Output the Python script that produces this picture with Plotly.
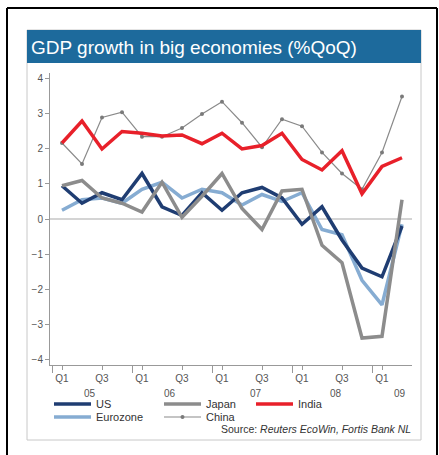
import plotly.graph_objects as go

# ---- data (QoQ % growth, 2005Q1 .. 2009Q2) ----
quarters = ["05Q1","05Q2","05Q3","05Q4","06Q1","06Q2","06Q3","06Q4",
            "07Q1","07Q2","07Q3","07Q4","08Q1","08Q2","08Q3","08Q4",
            "09Q1","09Q2"]
us       = [0.95,0.45,0.75,0.55,1.30,0.35,0.10,0.75,0.25,0.75,0.90,0.60,-0.15,0.35,-0.60,-1.40,-1.65,-0.20]
eurozone = [0.25,0.55,0.60,0.45,0.85,1.05,0.60,0.85,0.75,0.40,0.70,0.50,0.75,-0.30,-0.45,-1.75,-2.45,-0.15]
japan    = [0.95,1.10,0.60,0.45,0.20,1.05,0.05,0.65,1.30,0.30,-0.30,0.80,0.85,-0.75,-1.25,-3.40,-3.35,0.55]
china    = [2.17,1.57,2.90,3.05,2.35,2.35,2.60,3.00,3.35,2.75,2.05,2.85,2.65,1.90,1.30,0.85,1.90,3.50]
india    = [2.17,2.80,2.00,2.50,2.45,2.37,2.40,2.15,2.45,2.00,2.10,2.45,1.70,1.40,1.95,0.72,1.50,1.75]

q_tick_labels = ["Q1","Q3","Q1","Q3","Q1","Q3","Q1","Q3","Q1"]
q_tick_idx    = [0,2,4,6,8,10,12,14,16]
year_labels   = ["05","06","07","08","09"]
year_centers  = [1.4,5.4,9.7,13.7,16.9]
year_bounds   = [-0.5,3.5,7.5,11.5,15.5]
y_ticks       = [-4,-3,-2,-1,0,1,2,3,4]

x = list(range(len(quarters)))

W, H = 439, 455
L, R, T, B = 50, 412, 73, 365
def px(p):  # pixel x -> paper
    return (p - L) / (R - L)
def py(p):  # pixel y -> paper
    return (B - p) / (B - T)

FONT = "Arial, Liberation Sans, sans-serif"

fig = go.Figure()

series = [
    ("Eurozone", eurozone, dict(color="#86acd2", width=3.5), None, "legend4"),
    ("US", us, dict(color="#1f3d72", width=3.5), None, "legend"),
    ("Japan", japan, dict(color="#8c8c8c", width=3.5), None, "legend2"),
    ("China", china, dict(color="#8a8a8a", width=1.2), dict(size=4, color="#7a7a7a"), "legend5"),
    ("India", india, dict(color="#e8202a", width=3.5), None, "legend3"),
]
for name, vals, line, marker, leg in series:
    fig.add_trace(go.Scatter(
        x=x, y=vals, name=name, mode="lines+markers" if marker else "lines",
        line=line, marker=marker, legend=leg, showlegend=True))

shapes = [
    # panel
    dict(type="rect", xref="paper", yref="paper", x0=px(27), x1=px(421), y0=py(30), y1=py(440),
         line=dict(color="#c8c8c8", width=1), fillcolor="white", layer="below"),
    # title bar
    dict(type="rect", xref="paper", yref="paper", x0=px(27), x1=px(421), y0=py(30), y1=py(63),
         line=dict(width=0), fillcolor="#1d6a9c", layer="below"),
    # outer frame
    dict(type="line", xref="paper", yref="paper", x0=px(7), x1=px(7), y0=py(8), y1=py(460),
         line=dict(color="black", width=2)),
    dict(type="line", xref="paper", yref="paper", x0=px(7), x1=px(437), y0=py(8), y1=py(8),
         line=dict(color="black", width=2)),
    dict(type="line", xref="paper", yref="paper", x0=px(437), x1=px(437), y0=py(8), y1=py(460),
         line=dict(color="black", width=2)),
]

annotations = [
    dict(text="GDP growth in big economies (%QoQ)", xref="paper", yref="paper",
         x=px(29), y=py(47), xanchor="left", yanchor="middle", showarrow=False,
         font=dict(family=FONT, size=19, color="white")),
    dict(text="Source: <i>Reuters EcoWin, Fortis Bank NL</i>", xref="paper", yref="paper",
         x=px(413), y=py(429), xanchor="right", yanchor="middle", showarrow=False,
         font=dict(family=FONT, size=10.5, color="#333")),
]
for lab, c in zip(year_labels, year_centers):
    annotations.append(dict(text=lab, xref="x", yref="paper", x=c, y=py(393),
                            xanchor="center", yanchor="middle", showarrow=False,
                            font=dict(family=FONT, size=10, color="#555")))

legfont = dict(family=FONT, size=11, color="#333")
def leg(xp, yp):
    return dict(x=px(xp), y=py(yp), xanchor="left", yanchor="middle", orientation="h",
                bgcolor="rgba(0,0,0,0)", borderwidth=0, font=legfont, itemwidth=37)

fig.update_layout(
    width=W, height=H,
    margin=dict(l=L, r=W - R, t=T, b=H - B),
    paper_bgcolor="white", plot_bgcolor="white",
    font=dict(family=FONT, size=10, color="#555"),
    shapes=shapes, annotations=annotations,
    legend=leg(49, 404), legend2=leg(159, 404), legend3=leg(251, 404),
    legend4=leg(49, 417), legend5=leg(159, 417),
    xaxis=dict(range=[-0.6, 17.5], showgrid=False, zeroline=False, showline=True,
               linecolor="#999", linewidth=1, tickmode="array", tickvals=q_tick_idx,
               ticktext=q_tick_labels, ticks="outside", ticklen=4, tickcolor="#999",
               tickfont=dict(family=FONT, size=10, color="#555"),
               minor=dict(tickmode="array", tickvals=year_bounds, ticks="outside",
                          ticklen=7, tickcolor="#999")),
    yaxis=dict(range=[-4.17, 4.17], showgrid=False, zeroline=True, zerolinecolor="#d4d4d4",
               zerolinewidth=2, showline=True, linecolor="#999", linewidth=1,
               tickmode="array", tickvals=y_ticks, ticks="outside", ticklen=4,
               tickcolor="#999", tickfont=dict(family=FONT, size=10, color="#555")),
)

fig.write_html("out.html")
